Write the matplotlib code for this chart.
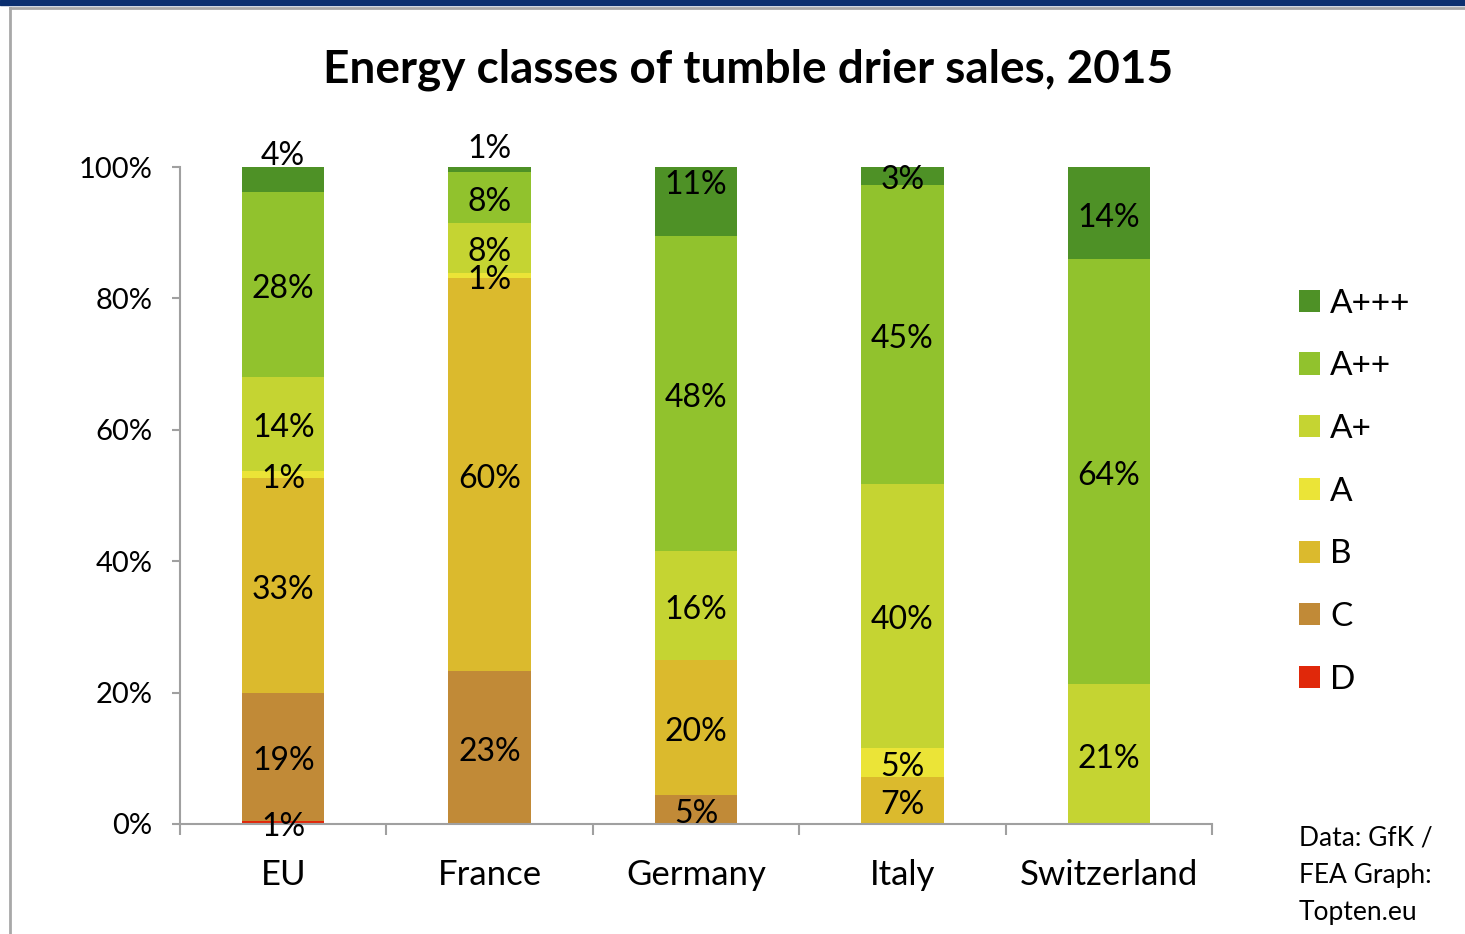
import matplotlib.pyplot as plt
from matplotlib.patches import Patch, Rectangle
from matplotlib.lines import Line2D
import numpy as np

# -------------------------------------
# Data (share of sales in %)
# -------------------------------------
countries = ["EU", "France", "Germany", "Italy", "Switzerland"]
classes = ["D", "C", "B", "A", "A+", "A++", "A+++"]

share_D = [0.5, 0.0, 0.0, 0.0, 0.0]
share_C = [19.5, 23.3, 4.4, 0.0, 0.0]
share_B = [32.6, 59.8, 20.5, 7.2, 0.0]
share_A = [1.2, 0.8, 0.0, 4.4, 0.0]
share_Ap = [14.2, 7.6, 16.7, 40.2, 21.3]
share_App = [28.2, 7.7, 47.9, 45.5, 64.7]
share_Appp = [3.8, 0.8, 10.5, 2.7, 14.0]

labels_D = ["1%", "", "", "", ""]
labels_C = ["19%", "23%", "5%", "", ""]
labels_B = ["33%", "60%", "20%", "7%", ""]
labels_A = ["1%", "1%", "", "5%", ""]
labels_Ap = ["14%", "8%", "16%", "40%", "21%"]
labels_App = ["28%", "8%", "48%", "45%", "64%"]
labels_Appp = ["4%", "1%", "11%", "3%", "14%"]

colors = ["#e0280a", "#c18a37", "#dbba2d", "#ebe437", "#c5d432", "#91c22d", "#4e9126"]

series = [share_D, share_C, share_B, share_A, share_Ap, share_App, share_Appp]
series_labels = [labels_D, labels_C, labels_B, labels_A, labels_Ap, labels_App, labels_Appp]

# labels that were nudged up in the original (class index, country index) -> shift in %
label_shift = {(6, 0): 4.2, (6, 1): 3.9, (6, 2): 3.2}

plt.rcParams['font.family'] = ['Lato', 'DejaVu Sans']

fig = plt.figure(figsize=(14.65, 9.34), dpi=100)

# frame decoration like the source slide
fig.patches.append(Rectangle((0, 1 - 5 / 934), 1, 5 / 934, transform=fig.transFigure,
                             color="#0b2f70", zorder=0))
fig.lines.append(Line2D([10 / 1465, 10 / 1465], [0, 1 - 8 / 934], transform=fig.transFigure,
                        color="#a8a8a8", linewidth=2))
fig.lines.append(Line2D([10 / 1465, 1], [1 - 8 / 934, 1 - 8 / 934], transform=fig.transFigure,
                        color="#a8a8a8", linewidth=2))

ax = fig.add_axes([180 / 1465, 1 - 824 / 934, 1032 / 1465, 657 / 934])

x = np.arange(len(countries))
bottom = np.zeros(len(countries))
for ci, (vals, col, name) in enumerate(zip(series, colors, classes)):
    vals = np.array(vals)
    ax.bar(x, vals, width=0.40, bottom=bottom, color=col, label=name)
    for i, lab in enumerate(series_labels[ci]):
        if lab:
            y = bottom[i] + vals[i] / 2 + label_shift.get((ci, i), 0) - 0.7
            ax.text(x[i], y, lab, ha='center', va='center', fontsize=23, color='black')
    bottom += vals

ax.set_xlim(-0.5, len(countries) - 0.5)
ax.set_ylim(0, 100)
ax.set_yticks([0, 20, 40, 60, 80, 100])
ax.set_yticklabels(["0%", "20%", "40%", "60%", "80%", "100%"], fontsize=21)
ax.set_xticks(x)
ax.set_xticklabels(countries, fontsize=25)
ax.set_xticks(np.arange(-0.5, len(countries), 1.0), minor=True)

ax.tick_params(axis='x', which='major', length=0, pad=25)
ax.tick_params(axis='x', which='minor', length=8, width=1.5, color="#a0a0a0", direction='out')
ax.tick_params(axis='y', length=6, width=1.5, color="#a0a0a0", pad=14)

for s in ["top", "right"]:
    ax.spines[s].set_visible(False)
for s in ["left", "bottom"]:
    ax.spines[s].set_color("#a0a0a0")
    ax.spines[s].set_linewidth(1.5)

fig.text(748 / 1465, 1 - 70 / 934, "Energy classes of tumble drier sales, 2015",
         ha='center', va='center', fontsize=33, fontweight='bold')

handles = [Patch(facecolor=c, edgecolor='none') for c in colors[::-1]]
fig.legend(handles, classes[::-1], loc='upper left', bbox_to_anchor=(1282 / 1465, 1 - 272 / 934),
           frameon=False, fontsize=24, handlelength=0.65, handleheight=0.65,
           labelspacing=0.98, handletextpad=0.3, borderpad=0)

fig.text(1299 / 1465, 1 - 875 / 934, "Data: GfK /\nFEA Graph:\nTopten.eu",
         ha='left', va='center', fontsize=19, linespacing=1.62)

fig.savefig("out.png", dpi=100)
